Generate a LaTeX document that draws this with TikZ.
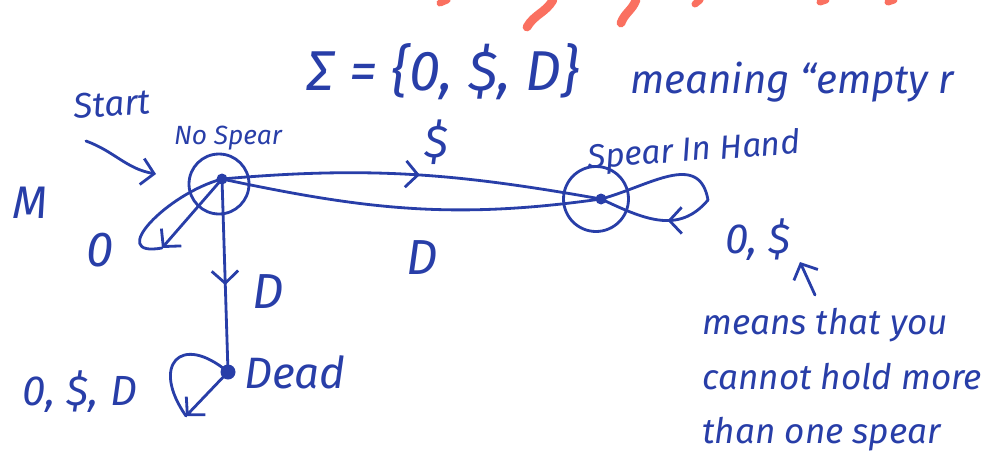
\documentclass[tikz,border=0pt]{standalone}
\usepackage{fontspec}
\setmainfont{Fira Sans}
\usetikzlibrary{positioning, arrows.meta, decorations.markings}
\definecolor{ink}{RGB}{40,62,168}
\definecolor{redink}{RGB}{250,112,96}
\tikzset{
  inkline/.style={draw=ink, line width=1.6pt, line cap=round, line join=round},
  endbarb/.style={-{Straight Barb[length=7pt,width=15pt]}},
  midbarb/.style={postaction={decorate}, decoration={markings,
      mark=at position #1 with {\arrow{Straight Barb[length=7pt,width=15pt]}}}},
  statering/.style={inkline, circle, minimum size=#1, inner sep=0pt},
  statedot/.style={fill=ink, circle, minimum size=#1, inner sep=0pt},
  handtext/.style={text=ink, font=\itshape\fontsize{#1}{#1}\selectfont, inner sep=0pt},
}

\begin{document}
\begin{tikzpicture}[x=0.02cm, y=-0.02cm]
\useasboundingbox (0,0) rectangle (989,466);
% top of the red heading, cut off
\draw[redink, line width=5pt, line cap=round] (527,27) to[out=60,in=-120] (553,0);
\draw[redink, line width=5pt, line cap=round] (621,23) to[out=70,in=-110] (636,0);
\draw[redink, line width=4pt, line cap=round] (440,3) -- (447,0);
\draw[redink, line width=4pt, line cap=round] (695,4) -- (700,0);
\draw[redink, line width=4pt, line cap=round] (820,2) -- (826,0);
\draw[redink, line width=4pt, line cap=round] (888,2) -- (894,0);

% states
\node[statering=1.2cm] at (219,184) (nsring) {};
\node[statedot=0.22cm] at (222,179) (ns) {};
\node[statering=1.3cm] at (596,199) (sihring) {};
\node[statedot=0.22cm] at (601,199) (sih) {};
\node[statedot=0.3cm] at (228,372) (dead) {};

\coordinate (startfrom) at (86,141);
\coordinate (starttip) at (156,174);
\coordinate (nsloop) at (162,248);
\coordinate (sihloop) at (708,200);
\coordinate (deadloop) at (186,416);
\coordinate (notefrom) at (815,295);
\coordinate (notetip) at (800,262);

% edges
\draw[inkline, endbarb] (startfrom) to[out=-20,in=170] (starttip);
\draw[inkline, midbarb=0.52] (ns.center) to[out=5,in=170] (sih.center);
\draw[inkline] (sih.center) to[out=188,in=-12] (ns.center);
\draw[inkline, midbarb=0.55] (ns.center) -- (dead.center);
\draw[inkline] (ns.center) to[out=195,in=190,looseness=1.6] (nsloop);
\draw[inkline, endbarb] (ns.center) -- (nsloop);
\draw[inkline] (sih.center) to[out=15,in=100,looseness=1.2] (sihloop);
\draw[inkline, midbarb=0.4] (sihloop) to[out=-130,in=-25,looseness=1.1] (sih.center);
\draw[inkline] (dead.center) to[out=140,in=125,looseness=2.6] (deadloop);
\draw[inkline, endbarb] (dead.center) -- (deadloop);
\draw[inkline, endbarb] (notefrom) -- (notetip);

% labels
\node[handtext=32pt] at (443,72) (alphabet) {Σ = \{0, \$, D\}};
\node[handtext=23pt, anchor=west] at (630,82) (meaning) {meaning “empty r};
\node[handtext=20pt, rotate=4] at (112,104) (start) {Start};
\node[handtext=26pt] at (30,203) (m) {M};
\node[handtext=15pt] at (228,138) (nslabel) {No Spear};
\node[handtext=19pt, rotate=4] at (694,152) (sihlabel) {Spear In Hand};
\node[handtext=26pt] at (436,142) (dollar) {\$};
\node[handtext=28pt] at (422,258) (dback) {D};
\node[handtext=28pt] at (100,250) (nsself) {0};
\node[handtext=24pt] at (758,240) (sihself) {0, \$};
\node[handtext=28pt] at (268,292) (ddown) {D};
\node[handtext=25pt, anchor=west] at (244,372) (deadlabel) {Dead};
\node[handtext=24pt] at (80,392) (deadself) {0, \$, D};
\node[text=ink, font=\itshape\fontsize{20pt}{31pt}\selectfont, inner sep=0pt,
  align=left, anchor=west] at (702,380) (note)
  {means that you\\cannot hold more\\than one spear};
\end{tikzpicture}
\end{document}
